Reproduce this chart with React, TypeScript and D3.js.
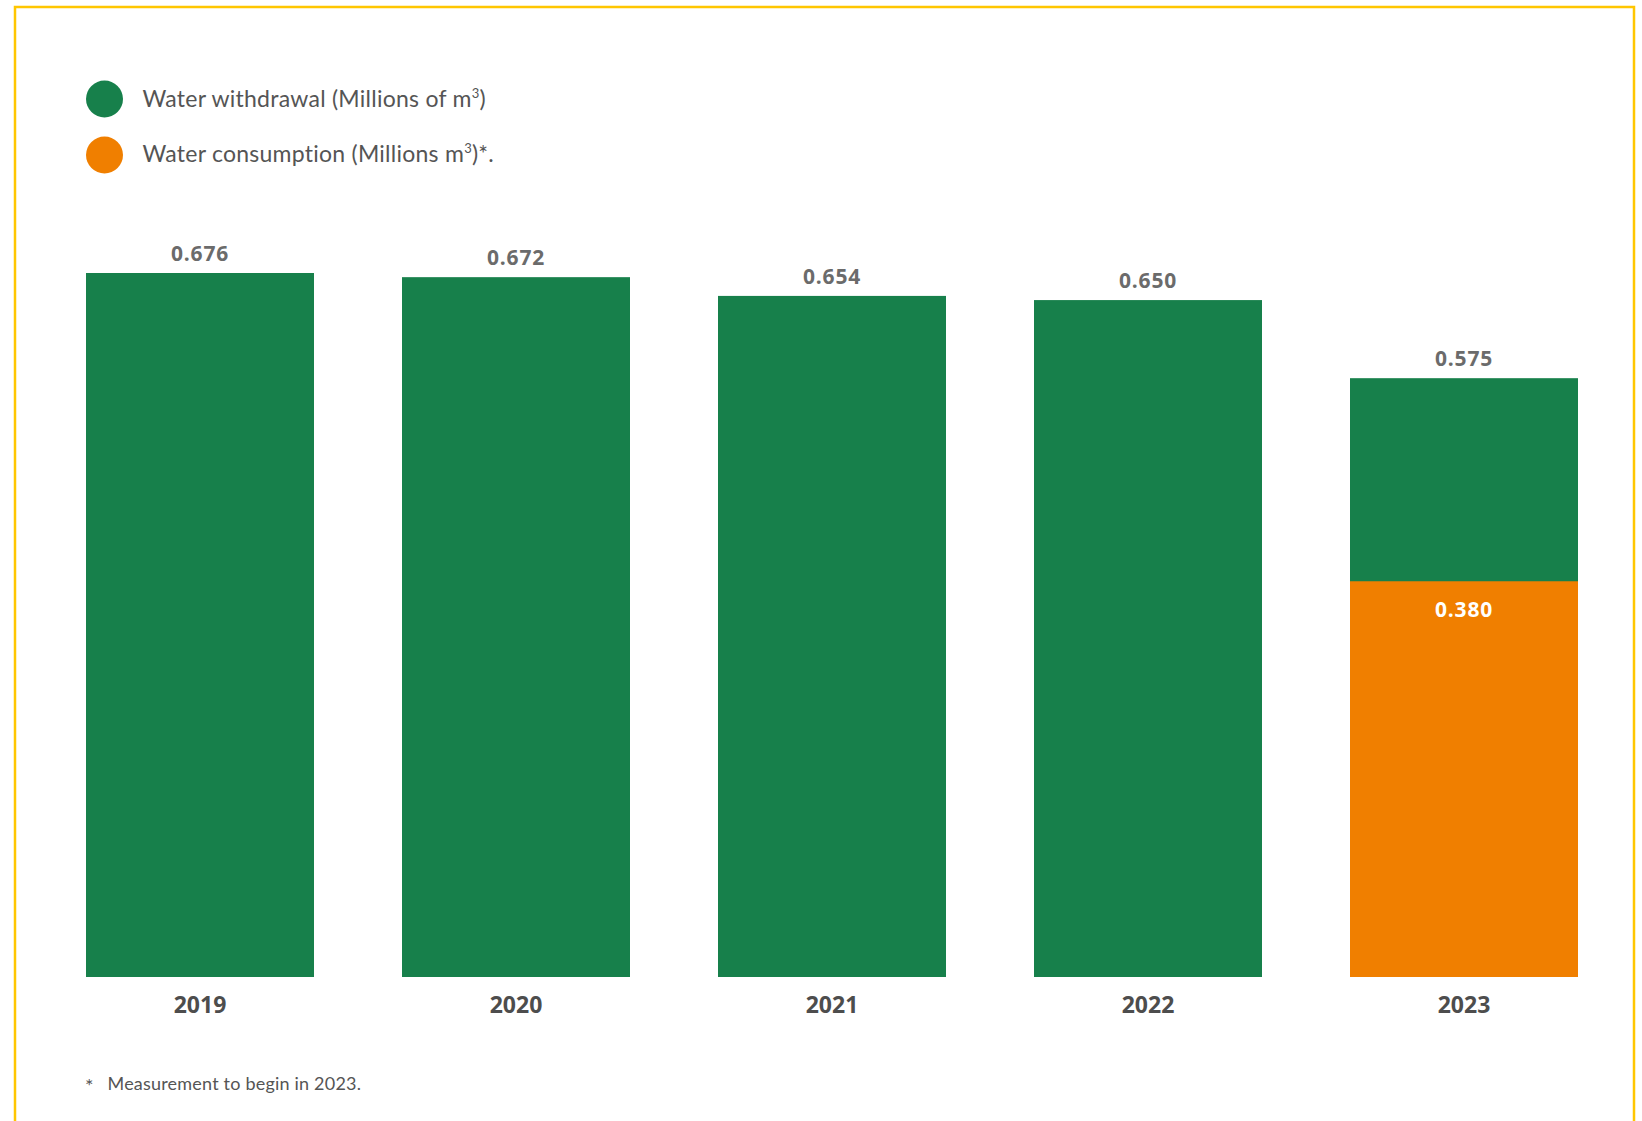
import React from 'react';
import * as d3 from 'd3';

const years = ['2019', '2020', '2021', '2022', '2023'];
const withdrawal = [0.676, 0.672, 0.654, 0.65, 0.575];
const consumption: (number | null)[] = [null, null, null, null, 0.38];
const withdrawalLabels = ['0.676', '0.672', '0.654', '0.650', '0.575'];
const consumptionLabels: (string | null)[] = [null, null, null, null, '0.380'];

const GREEN = '#17804B';
const ORANGE = '#F07F00';
const BORDER = '#FFC600';

export default function App() {
  const W = 1642;
  const H = 1121;
  const x = d3.scaleBand<string>().domain(years).range([86, 1578]).paddingInner(88 / 316).paddingOuter(0);
  const y = d3.scaleLinear().domain([0, 0.676]).range([977, 273]);
  const numFont = "'Open Sans', 'DejaVu Sans', sans-serif";
  const textFont = "Lato, 'Open Sans', sans-serif";

  return (
    <svg width={W} height={H} style={{ position: 'absolute', left: 0, top: 0, background: '#fff' }}>
      <rect x={15} y={7} width={1619} height={H + 20} fill="none" stroke={BORDER} strokeWidth={2.5} />
      {/* legend */}
      <ellipse cx={104.5} cy={99} rx={18.5} ry={18.5} fill={GREEN} />
      <ellipse cx={104.5} cy={155} rx={18.5} ry={18.5} fill={ORANGE} />
      <text x={142.5} y={107} fontFamily={textFont} fontSize={23} letterSpacing={0.25} fill="#555">
        Water withdrawal (Millions of m<tspan fontSize={13} dy={-9}>3</tspan>
        <tspan dy={9}>)</tspan>
      </text>
      <text x={142.5} y={162} fontFamily={textFont} fontSize={23} letterSpacing={0.25} fill="#555">
        Water consumption (Millions m<tspan fontSize={13} dy={-9}>3</tspan>
        <tspan dy={9}>)*.</tspan>
      </text>
      {/* bars */}
      {years.map((yr, i) => (
        <g key={yr}>
          <rect x={x(yr)} y={y(withdrawal[i])} width={x.bandwidth()} height={y(0) - y(withdrawal[i])} fill={GREEN} />
          {consumption[i] != null && (
            <rect x={x(yr)} y={y(consumption[i] as number)} width={x.bandwidth()} height={y(0) - y(consumption[i] as number)} fill={ORANGE} />
          )}
          <text x={(x(yr) as number) + x.bandwidth() / 2} y={y(withdrawal[i]) - 12} textAnchor="middle" fontFamily={numFont} fontWeight={700} fontSize={21} letterSpacing={0.8} fill="#6b6b6b">
            {withdrawalLabels[i]}
          </text>
          {consumption[i] != null && (
            <text x={(x(yr) as number) + x.bandwidth() / 2} y={y(consumption[i] as number) + 36} textAnchor="middle" fontFamily={numFont} fontWeight={700} fontSize={21} letterSpacing={0.8} fill="#fff">
              {consumptionLabels[i]}
            </text>
          )}
          <text x={(x(yr) as number) + x.bandwidth() / 2} y={1013} textAnchor="middle" fontFamily={numFont} fontWeight={700} fontSize={23} fill="#4d4d4d">
            {yr}
          </text>
        </g>
      ))}
      {/* footnote */}
      <text x={85} y={1093} fontFamily={textFont} fontSize={20} fill="#555">*</text>
      <text x={107.5} y={1090} fontFamily={textFont} fontSize={18} letterSpacing={0.2} fill="#555">Measurement to begin in 2023.</text>
    </svg>
  );
}
